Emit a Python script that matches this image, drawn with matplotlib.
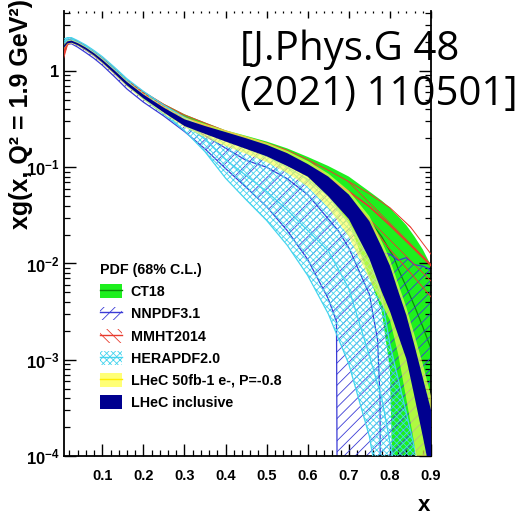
import matplotlib
matplotlib.use("Agg")
import matplotlib.pyplot as plt
import numpy as np
from matplotlib.patches import Patch
from matplotlib.lines import Line2D
from matplotlib.ticker import MultipleLocator, LogLocator, FuncFormatter, NullFormatter

plt.rcParams["font.family"] = ["Liberation Sans", "DejaVu Sans"]
plt.rcParams["font.weight"] = "bold"
plt.rcParams["mathtext.fontset"] = "custom"
plt.rcParams["mathtext.rm"] = "Liberation Sans:bold"
plt.rcParams["mathtext.bf"] = "Liberation Sans:bold"
plt.rcParams["mathtext.it"] = "Liberation Sans:bold:italic"
plt.rcParams["hatch.linewidth"] = 0.6

# ---------------- data: xg(x, Q^2 = 1.9 GeV^2), 68% C.L. bands ----------------
# CT18
ct18_x  = [0.006, 0.015, 0.025, 0.04, 0.06, 0.08, 0.1, 0.13, 0.16, 0.2, 0.25, 0.3, 0.35, 0.4, 0.45, 0.5,
           0.55, 0.6, 0.65, 0.7, 0.75, 0.78, 0.8, 0.805, 0.81, 0.82, 0.84, 0.86, 0.88, 0.9]
ct18_c  = [1.70, 2.00, 2.07, 1.93, 1.72, 1.50, 1.30, 1.02, 0.77, 0.575, 0.425, 0.325, 0.268, 0.218, 0.186, 0.157,
           0.128, 0.100, 0.073, 0.049, 0.028, 0.019, 0.0135, 0.0125, 0.0115, 0.0088, 0.0057, 0.0036, 0.0022, 0.0013]
ct18_hi = [1.84, 2.10, 2.16, 2.01, 1.79, 1.56, 1.36, 1.07, 0.81, 0.61, 0.455, 0.355, 0.292, 0.242, 0.212, 0.185,
           0.157, 0.128, 0.103, 0.080, 0.056, 0.045, 0.038, 0.036, 0.034, 0.031, 0.025, 0.019, 0.014, 0.0095]
ct18_lo = [1.56, 1.90, 1.98, 1.85, 1.65, 1.44, 1.24, 0.97, 0.73, 0.545, 0.40, 0.30, 0.242, 0.192, 0.158, 0.131,
           0.104, 0.079, 0.050, 0.027, 0.0072, 0.0032, 0.0008, 0.0001, 1e-7, 1e-7, 1e-7, 1e-7, 1e-7, 1e-7]

# NNPDF3.1
nnpdf_x  = [0.006, 0.015, 0.025, 0.04, 0.06, 0.08, 0.1, 0.13, 0.16, 0.2, 0.25, 0.3, 0.35, 0.4, 0.45, 0.5,
            0.55, 0.6, 0.65, 0.67, 0.674, 0.7, 0.75, 0.77, 0.776, 0.778, 0.8, 0.82, 0.84, 0.86, 0.88, 0.9]
nnpdf_c  = [1.76, 2.00, 2.02, 1.87, 1.65, 1.44, 1.23, 0.94, 0.71, 0.525, 0.38, 0.282, 0.213, 0.158, 0.118, 0.100,
            0.076, 0.052, 0.029, 0.023, 0.022, 0.0145, 0.0048, 0.0016, 0.0004, 1e-7, 1e-7, 1e-7, 1e-7, 1e-7, 1e-7, 1e-7]
nnpdf_hi = [1.90, 2.10, 2.12, 1.97, 1.75, 1.53, 1.31, 1.01, 0.77, 0.58, 0.425, 0.325, 0.258, 0.205, 0.170, 0.140,
            0.112, 0.085, 0.058, 0.050, 0.048, 0.038, 0.021, 0.015, 0.0135, 0.013, 0.0125, 0.0108, 0.0115, 0.0097, 0.0094, 0.0086]
nnpdf_lo = [1.62, 1.90, 1.92, 1.77, 1.55, 1.35, 1.15, 0.87, 0.65, 0.475, 0.34, 0.235, 0.155, 0.097, 0.062, 0.039,
            0.022, 0.011, 0.0043, 0.0025, 1e-7, 1e-7, 1e-7, 1e-7, 1e-7, 1e-7, 1e-7, 1e-7, 1e-7, 1e-7, 1e-7, 1e-7]

# MMHT2014
mmht_x  = [0.006, 0.015, 0.025, 0.04, 0.06, 0.08, 0.1, 0.13, 0.16, 0.2, 0.25, 0.3, 0.35, 0.4, 0.45, 0.5,
           0.55, 0.6, 0.65, 0.7, 0.75, 0.8, 0.85, 0.9]
mmht_c  = [1.48, 1.95, 2.10, 1.97, 1.75, 1.53, 1.32, 1.03, 0.78, 0.585, 0.43, 0.33, 0.27, 0.222, 0.190, 0.162,
           0.133, 0.104, 0.077, 0.056, 0.039, 0.025, 0.0155, 0.0095]
mmht_hi = [1.60, 2.05, 2.18, 2.04, 1.81, 1.58, 1.37, 1.06, 0.81, 0.61, 0.45, 0.35, 0.288, 0.238, 0.205, 0.178,
           0.150, 0.120, 0.093, 0.071, 0.053, 0.038, 0.024, 0.0125]
mmht_lo = [1.36, 1.85, 2.02, 1.90, 1.69, 1.48, 1.28, 1.00, 0.75, 0.565, 0.41, 0.31, 0.252, 0.205, 0.175, 0.146,
           0.116, 0.088, 0.062, 0.040, 0.026, 0.014, 0.008, 0.0045]

# HERAPDF2.0
hera_x  = [0.006, 0.015, 0.025, 0.04, 0.06, 0.08, 0.1, 0.13, 0.16, 0.2, 0.25, 0.3, 0.35, 0.4, 0.45, 0.5,
           0.55, 0.6, 0.65, 0.7, 0.75, 0.78, 0.8, 0.82, 0.84, 0.86, 0.88, 0.9]
hera_c  = [2.03, 2.15, 2.14, 1.99, 1.78, 1.56, 1.34, 1.03, 0.77, 0.565, 0.395, 0.285, 0.195, 0.12, 0.082, 0.056,
           0.036, 0.022, 0.0135, 0.0055, 0.0011, 0.0004, 0.00014, 0.00005, 1e-5, 1e-6, 1e-7, 1e-7]
hera_hi = [2.14, 2.22, 2.22, 2.07, 1.86, 1.63, 1.41, 1.09, 0.83, 0.615, 0.44, 0.33, 0.255, 0.20, 0.16, 0.13,
           0.10, 0.075, 0.050, 0.026, 0.0115, 0.0045, 0.00145, 0.00063, 0.00028, 0.00012, 0.00005, 0.00002]
hera_lo = [1.93, 2.07, 2.06, 1.91, 1.70, 1.49, 1.27, 0.97, 0.715, 0.515, 0.355, 0.24, 0.145, 0.077, 0.046, 0.028,
           0.0155, 0.0075, 0.003, 0.0009, 0.00016, 0.00003, 1e-6, 1e-7, 1e-7, 1e-7, 1e-7, 1e-7]

# LHeC pseudo-data fits share one x grid
lhec_x  = [0.006, 0.015, 0.025, 0.04, 0.06, 0.08, 0.1, 0.13, 0.16, 0.2, 0.25, 0.3, 0.35, 0.4, 0.45, 0.5,
           0.55, 0.6, 0.65, 0.7, 0.75, 0.78, 0.8, 0.82, 0.84, 0.86, 0.88, 0.9]
# LHeC 50fb-1 e-, P=-0.8
lhec50_hi = [1.88, 2.07, 2.11, 1.99, 1.78, 1.56, 1.34, 1.03, 0.79, 0.585, 0.43, 0.33, 0.282, 0.243, 0.21, 0.18,
             0.148, 0.116, 0.086, 0.057, 0.031, 0.017, 0.011, 0.0062, 0.0035, 0.0018, 0.0009, 0.00042]
lhec50_lo = [1.68, 1.89, 1.93, 1.82, 1.62, 1.41, 1.19, 0.91, 0.685, 0.50, 0.355, 0.26, 0.205, 0.166, 0.138, 0.113,
             0.087, 0.063, 0.038, 0.019, 0.0069, 0.0038, 0.0026, 0.00115, 0.00039, 0.00013, 0.00001, 1e-6]
lhec50_c  = [1.78, 1.98, 2.02, 1.90, 1.70, 1.48, 1.27, 0.97, 0.735, 0.54, 0.39, 0.293, 0.243, 0.205, 0.173, 0.145,
             0.117, 0.090, 0.062, 0.039, 0.019, 0.0099, 0.0064, 0.0036, 0.0019, 0.0009, 0.0004, 0.00015]
# LHeC inclusive
lhec_hi = [1.84, 2.03, 2.07, 1.95, 1.75, 1.53, 1.31, 1.01, 0.77, 0.57, 0.415, 0.315, 0.268, 0.232, 0.20, 0.171,
           0.140, 0.108, 0.080, 0.052, 0.0275, 0.0148, 0.0095, 0.0052, 0.0029, 0.0014, 0.00065, 0.0003]
lhec_lo = [1.72, 1.93, 1.97, 1.86, 1.66, 1.45, 1.23, 0.94, 0.71, 0.52, 0.37, 0.268, 0.222, 0.185, 0.155, 0.130,
           0.103, 0.080, 0.050, 0.029, 0.0112, 0.0051, 0.0032, 0.0018, 0.00102, 0.00041, 0.00016, 0.00006]

x_ticks = [0.1, 0.2, 0.3, 0.4, 0.5, 0.6, 0.7, 0.8, 0.9]
labels = ["CT18", "NNPDF3.1", "MMHT2014", "HERAPDF2.0", "LHeC 50fb-1 e-, P=-0.8", "LHeC inclusive"]

# ---------------- colours ----------------
c_green, c_green_line = "#1ef01e", "#0a8a0a"
c_blue = "#3b3bd6"
c_red = "#e83b2e"
c_cyan = "#45d4ee"
c_yellow = "#ffff55"
c_navy = "#00008f"

W, H = 519, 513
fig = plt.figure(figsize=(W / 100, H / 100), dpi=100)
ax = fig.add_axes([63.5 / W, (H - 456) / H, (431 - 63.5) / W, (456 - 11) / H])

# CT18: solid band with central line
ax.fill_between(ct18_x, ct18_lo, ct18_hi, facecolor=c_green, edgecolor="none", zorder=1)
ax.plot(ct18_x, ct18_c, color=c_green_line, lw=0.9, zorder=1.1)

# NNPDF3.1: hatched band with edge lines
ax.fill_between(nnpdf_x, nnpdf_lo, nnpdf_hi, facecolor="none", edgecolor=c_blue, hatch="///",
                linewidth=0, zorder=2)
for ys in (nnpdf_lo, nnpdf_c, nnpdf_hi):
    ax.plot(nnpdf_x, ys, color=c_blue, lw=0.9, zorder=2.1)

# MMHT2014
ax.fill_between(mmht_x, mmht_lo, mmht_hi, facecolor="none", edgecolor=c_red, hatch="\\\\",
                linewidth=0, zorder=3)
for ys, lw in ((mmht_lo, 0.7), (mmht_c, 1.2), (mmht_hi, 0.7)):
    ax.plot(mmht_x, ys, color=c_red, lw=lw, zorder=3.1)

# HERAPDF2.0: fine cross-hatch
ax.fill_between(hera_x, hera_lo, hera_hi, facecolor="none", edgecolor=c_cyan, hatch="xxxxx",
                linewidth=0, zorder=4)
for ys in (hera_lo, hera_c, hera_hi):
    ax.plot(hera_x, ys, color=c_cyan, lw=0.9, zorder=4.1)

# LHeC 50 fb^-1
ax.fill_between(lhec_x, lhec50_lo, lhec50_hi, facecolor=c_yellow, alpha=0.65, edgecolor="none", zorder=5)
ax.plot(lhec_x, lhec50_c, color="#ffff00", lw=0.9, zorder=5.1)

# LHeC inclusive
ax.fill_between(lhec_x, lhec_lo, lhec_hi, facecolor=c_navy, edgecolor="none", zorder=6)

# ---------------- axes ----------------
ax.set_yscale("log")
ax.set_xlim(0.0056, 0.9)
ax.set_ylim(1e-4, 4.2)

ax.xaxis.set_major_locator(plt.FixedLocator(x_ticks))
ax.xaxis.set_minor_locator(MultipleLocator(0.02))
ax.xaxis.set_major_formatter(FuncFormatter(lambda v, p: f"{v:.1f}"))
ax.yaxis.set_major_locator(LogLocator(base=10, numticks=10))
ax.yaxis.set_minor_locator(LogLocator(base=10, subs=np.arange(2, 10), numticks=20))
ax.yaxis.set_minor_formatter(NullFormatter())


def ylab(v, pos):
    e = int(round(np.log10(v)))
    return "1" if e == 0 else r"$\mathdefault{10^{%d}}$" % e


ax.yaxis.set_major_formatter(FuncFormatter(ylab))

for s in ("left", "bottom", "right"):
    ax.spines[s].set_linewidth(1.3)
ax.spines["top"].set_visible(False)

ax.tick_params(axis="x", which="major", direction="in", length=8.8, width=1.0, labelsize=10.5,
               pad=9, top=True)
ax.tick_params(axis="x", which="minor", direction="in", length=4.3, width=0.9, top=True)
ax.tick_params(axis="y", which="major", direction="in", length=8.5, width=1.0, labelsize=12,
               pad=3, right=True)
ax.tick_params(axis="y", which="minor", direction="in", length=4.2, width=0.9, right=True)
for t in ax.xaxis.get_ticklines(minor=False)[1::2]:
    t.set_markersize(5)
    t.set_color("#555555")
for t in ax.xaxis.get_ticklines(minor=True)[1::2]:
    t.set_markersize(1.5)
    t.set_color("#888888")

# axis titles
fig.text(21 / W, (H - 229) / H, "xg(x, Q² = 1.9 GeV²)", rotation=90, ha="center", va="bottom",
         fontsize=18, fontweight="bold")
fig.text(430 / W, 2 / H, "x", ha="right", va="baseline", fontsize=16, fontweight="bold")

# reference
fig.text(240 / W, (H - 29) / H, "[J.Phys.G 48\n(2021) 110501]", ha="left", va="top",
         fontsize=29, family="Open Sans", fontweight="normal", linespacing=1.17, zorder=20)

# ---------------- legend ----------------
handles = [
    (Patch(facecolor=c_green, edgecolor="none"), Line2D([], [], color=c_green_line, lw=1)),
    (Patch(facecolor="none", edgecolor=c_blue, hatch="///", lw=0), Line2D([], [], color=c_blue, lw=1)),
    (Patch(facecolor="none", edgecolor=c_red, hatch="\\\\\\", lw=0), Line2D([], [], color=c_red, lw=1)),
    (Patch(facecolor="none", edgecolor=c_cyan, hatch="xxxxx", lw=0), Line2D([], [], color=c_cyan, lw=1)),
    (Patch(facecolor=c_yellow, alpha=0.8, edgecolor="none"), Line2D([], [], color="#ffee00", lw=1)),
    Patch(facecolor=c_navy, edgecolor="none"),
]
leg = ax.legend(handles, labels, loc="upper left", bbox_to_anchor=(100 / W, (H - 263) / H),
                bbox_transform=fig.transFigure, frameon=False, borderpad=0, borderaxespad=0,
                handlelength=1.55, handleheight=1.1, handletextpad=0.6, labelspacing=0.52,
                prop={"size": 10.3, "weight": "bold"}, title="PDF (68% C.L.)",
                title_fontproperties={"size": 10.3, "weight": "bold"}, alignment="left")
leg.set_zorder(10)

fig.savefig("out.png", dpi=100)
